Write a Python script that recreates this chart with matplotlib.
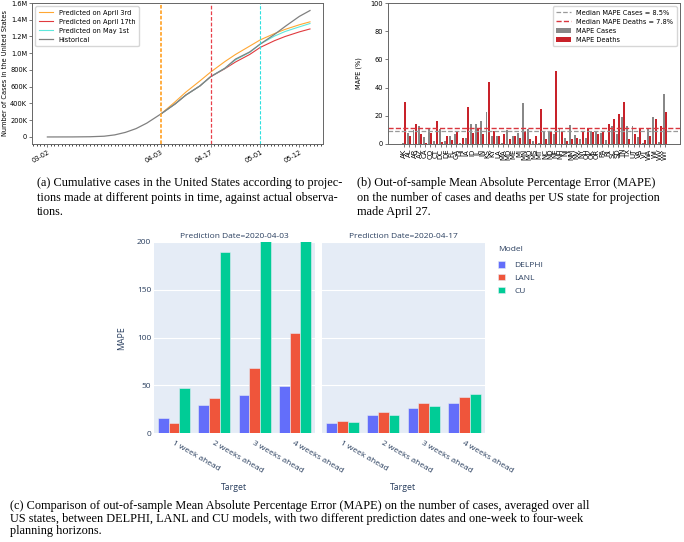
import numpy as np
import matplotlib.pyplot as plt
import matplotlib.dates as mdates
from matplotlib.ticker import FuncFormatter, FixedLocator

# ---- (a) cumulative US cases (thousands) ----
dates = np.array(['2020-03-02', '2020-03-09', '2020-03-14', '2020-03-18', '2020-03-21',
                  '2020-03-24', '2020-03-27', '2020-03-30', '2020-04-03', '2020-04-07',
                  '2020-04-10', '2020-04-14', '2020-04-17', '2020-04-21', '2020-04-24',
                  '2020-04-28', '2020-05-01', '2020-05-05', '2020-05-08', '2020-05-12',
                  '2020-05-15'], dtype='datetime64[D]')
nan = np.nan
historical = [0.1, 0.6, 2.7, 9, 25, 55, 100, 165, 275, 395, 500, 610, 720, 820, 930,
              1015, 1110, 1225, 1320, 1440, 1510]
pred_apr3 = [nan] * 8 + [275, 420, 535, 670, 775, 900, 985, 1085, 1160, 1235, 1285, 1340, 1375]
pred_apr17 = [nan] * 8 + [275, 395, 500, 610, 720, 815, 895, 985, 1070, 1150, 1200, 1255, 1290]
pred_may1 = [nan] * 8 + [275, 395, 500, 610, 720, 820, 920, 1010, 1110, 1205, 1260, 1315, 1355]
vline_dates = np.array(['2020-04-03', '2020-04-17', '2020-05-01'], dtype='datetime64[D]')
a_ticks = np.array(['2020-03-02', '2020-04-03', '2020-04-17', '2020-05-01', '2020-05-12'],
                   dtype='datetime64[D]')

# ---- (b) MAPE per state ----
states = ['AK', 'AL', 'AR', 'AZ', 'CA', 'CO', 'CT', 'DC', 'DE', 'FL', 'GA', 'HI', 'IA',
          'ID', 'IL', 'IN', 'KS', 'KY', 'LA', 'MA', 'MD', 'ME', 'MI', 'MN', 'MO', 'MS',
          'MT', 'NC', 'ND', 'NE', 'NH', 'NJ', 'NM', 'NV', 'NY', 'OH', 'OK', 'OR', 'PA',
          'RI', 'SC', 'SD', 'TN', 'TX', 'UT', 'VA', 'VT', 'WA', 'WI', 'WV', 'WY']
mape_cases = [1, 8, 10, 13, 5, 11, 2, 10.5, 2, 5.5, 7, 1, 4, 14.5, 14.5, 16.5, 22.5, 5.5,
              5.5, 1, 10, 5.5, 8, 29, 10.5, 2, 1, 9, 9.5, 7, 10.5, 4, 13.5, 6.5, 3.5, 4.5,
              9.5, 8.5, 7.5, 2.5, 13, 7, 19.5, 13, 13, 5, 1, 10.5, 19.5, 1.5, 35.5]
mape_deaths = [29.5, 5.5, 14.5, 6.8, 1, 7.5, 16, 1.5, 6, 3, 8.5, 4, 26.5, 7.5, 11, 7, 44,
               9, 6, 7, 3.5, 5.5, 4.5, 9, 3.5, 5.5, 25, 3.5, 9, 51.5, 9.5, 2, 3.5, 4.5, 8.5,
               11, 8.5, 7, 9, 14.5, 18, 21, 30, 3.5, 7, 10.5, 2.5, 6, 18, 13, 22.5]
median_cases_line = 9.2
median_deaths_line = 11.0

# ---- (c) MAPE by model ----
targets = ['1 week ahead', '2 weeks ahead', '3 weeks ahead', '4 weeks ahead']
models = ['DELPHI', 'LANL', 'CU']
model_colors = ['#636EFA', '#EF553B', '#00CC96']
mape_0403 = {'DELPHI': [16, 29.6, 40.3, 49],
             'LANL': [10.8, 36.9, 68.2, 104.3],
             'CU': [47, 190, 260, 330]}
mape_0417 = {'DELPHI': [10, 18.4, 25.7, 31.7],
             'LANL': [12.5, 22.3, 31, 37.2],
             'CU': [11.8, 19.1, 27.8, 41]}

W, H = 684, 542
fig = plt.figure(figsize=(W / 100, H / 100), dpi=100)


def rect(l, t, r, b):
    return [l / W, 1 - b / H, (r - l) / W, (b - t) / H]


def kfmt(v, pos):
    if v == 0:
        return '0'
    if v >= 1000:
        return '%.1fM' % (v / 1000)
    return '%dK' % v


small = 4.8
spine_c = '#666666'

# ---------- panel (a) ----------
ax = fig.add_axes(rect(32, 3, 323, 144))
ax.plot(dates, pred_apr3, color='#ffa733', lw=0.8, label='Predicted on April 3rd')
ax.plot(dates, pred_apr17, color='#e03a3e', lw=0.8, label='Predicted on April 17th')
ax.plot(dates, pred_may1, color='#5ee8dc', lw=0.8, label='Predicted on May 1st')
ax.plot(dates, historical, color='#808080', lw=0.9, label='Historical')
ax.axvline(vline_dates[0], color='#ffa733', ls='--', lw=1.3, dashes=(2, 1))
ax.axvline(vline_dates[1], color='#e8404a', ls='--', lw=0.9, dashes=(3, 1.5))
ax.axvline(vline_dates[2], color='#2ee0e0', ls='--', lw=0.8, dashes=(3, 1.5))
ax.set_xlim(np.datetime64('2020-02-26T16'), np.datetime64('2020-05-18T16'))
ax.set_ylim(-84, 1600)
ax.yaxis.set_major_locator(FixedLocator(np.arange(0, 1601, 200)))
ax.yaxis.set_major_formatter(FuncFormatter(kfmt))
ax.set_xticks(a_ticks)
ax.xaxis.set_major_formatter(mdates.DateFormatter('%m-%d'))
ax.xaxis.set_minor_locator(mdates.DayLocator())
ax.tick_params(axis='both', labelsize=small, length=2, width=0.5, pad=1.5, color='#444444')
ax.tick_params(axis='x', which='minor', length=1.2, width=0.5)
for lab in ax.get_xticklabels():
    lab.set_rotation(30)
    lab.set_ha('right')
    lab.set_rotation_mode('anchor')
ax.set_ylabel('Number of Cases in the United States', fontsize=small, labelpad=1.5)
for s in ax.spines.values():
    s.set_color(spine_c)
    s.set_linewidth(0.7)
ax.legend(loc='upper left', fontsize=small, frameon=True, borderpad=0.5,
          handlelength=2.2, labelspacing=0.45, edgecolor='#cccccc', fancybox=True)

# ---------- panel (b) ----------
bx = fig.add_axes(rect(388, 3, 680, 144))
xs = np.arange(len(states))
bx.axhline(median_cases_line, color='#999999', ls='--', lw=0.9,
           label='Median MAPE Cases = 8.5%')
bx.axhline(median_deaths_line, color='#d9363e', ls='--', lw=1.0,
           label='Median MAPE Deaths = 7.8%')
bx.bar(xs - 0.21, mape_cases, width=0.38, color='#888888', label='MAPE Cases')
bx.bar(xs + 0.21, mape_deaths, width=0.38, color='#c8222a', label='MAPE Deaths')
bx.set_xlim(-3.1, 52.9)
bx.set_ylim(0, 100)
bx.set_xticks(xs)
bx.set_xticklabels(states, rotation=90, fontsize=5)
bx.tick_params(axis='y', labelsize=small)
bx.tick_params(axis='both', length=2, width=0.5, pad=1.5, color='#444444')
bx.set_ylabel('MAPE (%)', fontsize=small, labelpad=6)
for s in bx.spines.values():
    s.set_color(spine_c)
    s.set_linewidth(0.7)
bx.legend(loc='upper right', fontsize=small, frameon=True, borderpad=0.5,
          handlelength=2.2, labelspacing=0.45, edgecolor='#cccccc', fancybox=True)

# ---------- panel (c) ----------
pl_font = 'Open Sans'
pl_col = '#2a3f5f'
bg = '#E5ECF6'
cx = np.arange(len(targets))
bw = 0.8 / 3
panels = [(rect(154, 242, 315, 433), mape_0403, 'Prediction Date=2020-04-03'),
          (rect(322, 242, 485, 433), mape_0417, 'Prediction Date=2020-04-17')]
axes_c = []
for k, (r, data, title) in enumerate(panels):
    c = fig.add_axes(r)
    c.set_facecolor(bg)
    for i, m in enumerate(models):
        c.bar(cx + (i - 1) * bw, data[m], width=bw, color=model_colors[i],
              edgecolor=bg, linewidth=0.4, label=m, zorder=3)
    c.set_xlim(-0.5, 3.5)
    c.set_ylim(0, 200)
    c.set_yticks([0, 50, 100, 150, 200])
    c.grid(axis='y', color='white', lw=0.8, zorder=0)
    c.set_axisbelow(True)
    for s in c.spines.values():
        s.set_visible(False)
    c.set_xticks(cx)
    c.set_xticklabels(targets, rotation=-30, ha='left', va='top',
                      rotation_mode='anchor', fontsize=6, color=pl_col, family=pl_font)
    c.tick_params(axis='x', length=0, pad=5)
    c.tick_params(axis='y', length=0, pad=2, labelsize=6, labelcolor=pl_col)
    for lab in c.get_yticklabels():
        lab.set_family(pl_font)
    if k == 1:
        c.set_yticklabels([])
    c.text(0.5, 1.012, title, transform=c.transAxes, ha='center', va='bottom',
           fontsize=6, color=pl_col, family=pl_font)
    fig.text(((r[0] + r[2] / 2)), 1 - 487 / H, 'Target', ha='center', va='center',
             fontsize=6.3, color=pl_col, family=pl_font)
    axes_c.append(c)

fig.text(122 / W, 1 - 338 / H, 'MAPE', rotation=90, ha='center', va='center',
         fontsize=6.3, color=pl_col, family=pl_font)
leg = axes_c[1].legend(loc='upper left', bbox_to_anchor=(492 / W, 1 - 240 / H),
                       bbox_transform=fig.transFigure, frameon=False, title='Model',
                       alignment='left', fontsize=6, title_fontsize=6,
                       handlelength=0.8, handleheight=0.8, labelspacing=0.55,
                       handletextpad=1.2, borderpad=0.2)
for t in leg.get_texts():
    t.set_color(pl_col)
    t.set_family(pl_font)
leg.get_title().set_color(pl_col)
leg.get_title().set_family(pl_font)
leg._legend_box.sep = 6

# ---------- captions ----------
cap = dict(family='Liberation Serif', fontsize=8.8, va='center', ha='left')
fig.text(37 / W, 1 - 183 / H,
         '(a) Cumulative cases in the United States according to projec-', **cap)
fig.text(37 / W, 1 - 198 / H,
         'tions made at different points in time, against actual observa-', **cap)
fig.text(37 / W, 1 - 212 / H, 'tions.', **cap)
fig.text(357 / W, 1 - 183 / H,
         '(b) Out-of-sample Mean Absolute Percentage Error (MAPE)', **cap)
fig.text(357 / W, 1 - 198 / H,
         'on the number of cases and deaths per US state for projection', **cap)
fig.text(357 / W, 1 - 212 / H, 'made April 27.', **cap)
fig.text(10 / W, 1 - 506 / H,
         '(c) Comparison of out-of-sample Mean Absolute Percentage Error (MAPE) on the '
         'number of cases, averaged over all', **cap)
fig.text(10 / W, 1 - 519 / H,
         'US states, between DELPHI, LANL and CU models, with two different prediction '
         'dates and one-week to four-week', **cap)
fig.text(10 / W, 1 - 531 / H, 'planning horizons.', **cap)

fig.savefig('out.png', dpi=100)
